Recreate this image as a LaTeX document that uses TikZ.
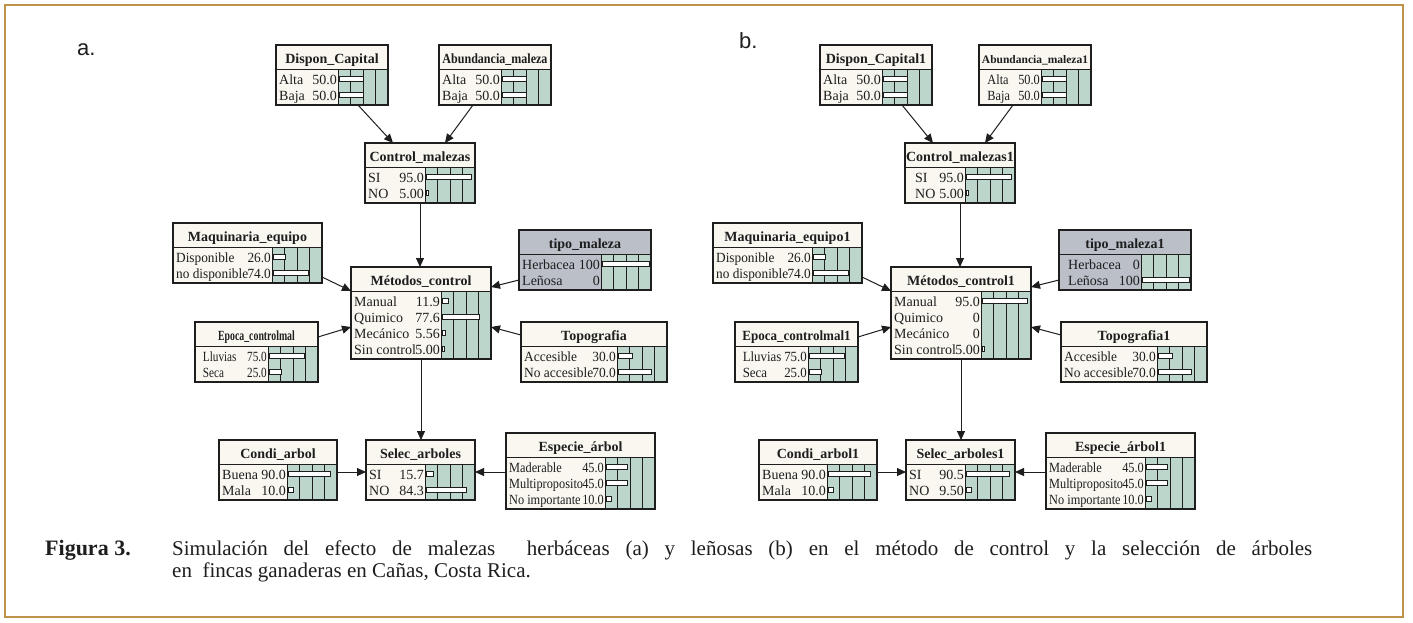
\documentclass[tikz,border=0pt]{standalone}
\usepackage{fontspec}
\setmainfont{Liberation Serif}
\newfontfamily\labfont{Liberation Sans}
\usetikzlibrary{arrows.meta,calc}
\definecolor{cream}{RGB}{249,247,240}
\definecolor{sage}{RGB}{188,214,204}
\definecolor{greyn}{RGB}{186,191,200}
\definecolor{framec}{RGB}{192,145,75}
\definecolor{ink}{RGB}{30,30,30}
\tikzset{
 ttl/.style={}, rw/.style={}, nfill/.style={fill=cream},
 boxline/.style={draw=ink, line width=1.2pt},
 gridl/.style={draw=ink, line width=0.9pt},
 barst/.style={draw=ink, fill=white, line width=0.9pt},
 titletext/.style={font=\fontsize{14}{16}\selectfont\bfseries, inner sep=0pt, text=ink},
 rowtext/.style={font=\fontsize{14}{16}\selectfont, inner sep=0pt, text=ink},
 arr/.style={draw=ink, line width=1pt, -{Triangle[length=9pt,width=8pt]}},
 caption/.style={font=\fontsize{21}{25}\selectfont, inner sep=0pt, text=ink},
 panel/.style={font=\labfont\fontsize{22}{26}\selectfont, inner sep=0pt, text=ink},
}
% #1 name, #2 x, #3 y, #4 width, #5 rows count, #6 title, #7 rows label/value/pct
\newcommand\netnode[7]{%
 \pgfmathsetmacro\nhb{#3+24}%
 \pgfmathsetmacro\nbot{#3+28+16*#5}%
 \pgfmathsetmacro\nxr{#2+#4}%
 \pgfmathsetmacro\nbl{#2+#4-50}%
 \pgfmathsetmacro\ncx{#2+#4/2}%
 \pgfmathsetmacro\nh{28+16*#5}%
 \path[nfill] (#2,#3) rectangle (\nxr,\nbot);
 \fill[sage] (\nbl,\nhb) rectangle (\nxr,\nbot);
 \foreach \k in {1,2,3} \draw[gridl] ({\nbl+12.5*\k},\nhb) -- ({\nbl+12.5*\k},\nbot);
 \draw[gridl] (#2,\nhb) -- (\nxr,\nhb) (\nbl,\nhb) -- (\nbl,\nbot);
 \node[titletext,ttl,anchor=base] (#1-t) at (\ncx,{#3+18}) {#6};
 \foreach \lab/\val/\pct [count=\i] in {#7} {
   \pgfmathsetmacro\by{\nhb+16*\i-1}
   \pgfmathsetmacro\bc{\nhb+16*\i-6}
   \node[rowtext,rw,anchor=base west] (#1-l\i) at ({#2+3},\by) {\lab};
   \node[rowtext,rw,anchor=base east] (#1-v\i) at ({\nbl-1},\by) {\val};
   \ifdim\pct pt>0pt
     \pgfmathsetmacro\bw{max(47*\pct/100,1.2)}
     \draw[barst] ({\nbl+1.5},{\bc-2.5}) rectangle ({\nbl+1.5+\bw},{\bc+2.5});
   \fi
 }
 \node[boxline, minimum width=#4pt, minimum height=\nh pt, inner sep=0pt, outer sep=0pt, anchor=north west] (#1) at (#2,#3) {};
}
\begin{document}
\begin{tikzpicture}[x=1pt,y=-1pt]
\useasboundingbox (0,0) rectangle (1413,622);
\fill[white] (0,0) rectangle (1413,622);
\draw[framec, line width=2.5pt] (5,5) rectangle (1403,617);

\node[panel,anchor=base west] (pa) at (77,55) {a.};
\node[panel,anchor=base west] (pb) at (739,48) {b.};

% ---------------- network a ----------------
\netnode{dc}{276}{45}{112}{2}{Dispon\_Capital}{Alta/50.0/50, Baja/50.0/50}
\begin{scope}[ttl/.style={xscale=0.86}]
\netnode{ab}{439}{45}{112}{2}{Abundancia\_maleza}{Alta/50.0/50, Baja/50.0/50}
\end{scope}
\netnode{cm}{365}{143}{110}{2}{Control\_malezas}{SI/95.0/95, NO/5.00/5}
\begin{scope}[rw/.style={xscale=0.95}]
\netnode{mq}{173}{223}{149}{2}{Maquinaria\_equipo}{Disponible/26.0/26, no disponible/74.0/74}
\end{scope}
\begin{scope}[nfill/.style={fill=greyn}]
\netnode{tm}{519}{230}{132}{2}{tipo\_maleza}{Herbacea/100/100, Leñosa/0/0}
\end{scope}
\netnode{mc}{351}{267}{140}{4}{Métodos\_control}{Manual/11.9/11.9, Quimico/77.6/77.6, Mecánico/5.56/5.56, Sin control/5.00/5}
\begin{scope}[ttl/.style={xscale=0.7}, rw/.style={xscale=0.8}]
\netnode{ep}{195}{322}{123}{2}{Epoca\_controlmal}{\hspace{6pt}Lluvias/75.0/75, \hspace{6pt}Seca/25.0/25}
\end{scope}
\begin{scope}[rw/.style={xscale=0.96}]
\netnode{tp}{521}{322}{146}{2}{Topografia}{Accesible/30.0/30, No accesible/70.0/70}
\end{scope}
\netnode{cd}{219}{440}{118}{2}{Condi\_arbol}{Buena/90.0/90, Mala/10.0/10}
\netnode{sa}{366}{440}{109}{2}{Selec\_arboles}{SI/15.7/15.7, NO/84.3/84.3}
\begin{scope}[rw/.style={xscale=0.88}]
\netnode{es}{506}{433}{149}{3}{Especie\_árbol}{Maderable/45.0/45, Multiproposito/45.0/45, No importante/10.0/10}
\end{scope}

\draw[arr] ($(dc.south)+(26,0)$) -- ($(cm.north)+(-27,0)$);
\draw[arr] ($(ab.south)+(-22,0)$) -- ($(cm.north)+(25,0)$);
\draw[arr] (cm.south) -- (cm.south |- mc.north);
\draw[arr] ($(mq.south east)+(0,-6)$) -- ($(mc.north west)+(0,24)$);
\draw[arr] ($(tm.south west)+(0,-10)$) -- ($(mc.north east)+(0,20)$);
\draw[arr] ($(ep.north east)+(0,15)$) -- ($(mc.north west)+(0,60)$);
\draw[arr] ($(tp.north west)+(0,13)$) -- ($(mc.north east)+(0,60)$);
\draw[arr] (mc.south) -- (mc.south |- sa.north);
\draw[arr] ($(cd.north east)+(0,32)$) -- ($(sa.north west)+(0,32)$);
\draw[arr] ($(es.north west)+(0,39)$) -- ($(sa.north east)+(0,32)$);

% ---------------- network b ----------------
\netnode{dcr}{820}{45}{112}{2}{Dispon\_Capital1}{Alta/50.0/50, Baja/50.0/50}
\begin{scope}[ttl/.style={font=\fontsize{11.5}{13}\selectfont\bfseries}, rw/.style={xscale=0.88}]
\netnode{abr}{979}{45}{112}{2}{Abundancia\_maleza1}{\hspace{6pt}Alta/50.0/50, \hspace{6pt}Baja/50.0/50}
\end{scope}
\netnode{cmr}{905}{143}{110}{2}{Control\_malezas1}{\hspace{7pt}SI/95.0/95, \hspace{7pt}NO/5.00/5}
\begin{scope}[rw/.style={xscale=0.95}]
\netnode{mqr}{713}{223}{149}{2}{Maquinaria\_equipo1}{Disponible/26.0/26, no disponible/74.0/74}
\end{scope}
\begin{scope}[nfill/.style={fill=greyn}]
\netnode{tmr}{1059}{230}{132}{2}{tipo\_maleza1}{\hspace{6pt}Herbacea/0/0, \hspace{6pt}Leñosa/100/100}
\end{scope}
\netnode{mcr}{891}{267}{140}{4}{Métodos\_control1}{Manual/95.0/95, Quimico/0/0, Mecánico/0/0, Sin control/5.00/5}
\begin{scope}[ttl/.style={xscale=0.93}, rw/.style={xscale=0.92}]
\netnode{epr}{735}{322}{123}{2}{Epoca\_controlmal1}{\hspace{5pt}Lluvias/75.0/75, \hspace{5pt}Seca/25.0/25}
\end{scope}
\begin{scope}[rw/.style={xscale=0.96}]
\netnode{tpr}{1061}{322}{146}{2}{Topografia1}{Accesible/30.0/30, No accesible/70.0/70}
\end{scope}
\netnode{cdr}{759}{440}{118}{2}{Condi\_arbol1}{Buena/90.0/90, Mala/10.0/10}
\netnode{sar}{906}{440}{109}{2}{Selec\_arboles1}{SI/90.5/90.5, NO/9.50/9.5}
\begin{scope}[rw/.style={xscale=0.88}]
\netnode{esr}{1046}{433}{149}{3}{Especie\_árbol1}{Maderable/45.0/45, Multiproposito/45.0/45, No importante/10.0/10}
\end{scope}

\draw[arr] ($(dcr.south)+(26,0)$) -- ($(cmr.north)+(-27,0)$);
\draw[arr] ($(abr.south)+(-22,0)$) -- ($(cmr.north)+(25,0)$);
\draw[arr] (cmr.south) -- (cmr.south |- mcr.north);
\draw[arr] ($(mqr.south east)+(0,-6)$) -- ($(mcr.north west)+(0,24)$);
\draw[arr] ($(tmr.south west)+(0,-10)$) -- ($(mcr.north east)+(0,20)$);
\draw[arr] ($(epr.north east)+(0,15)$) -- ($(mcr.north west)+(0,60)$);
\draw[arr] ($(tpr.north west)+(0,13)$) -- ($(mcr.north east)+(0,60)$);
\draw[arr] (mcr.south) -- (mcr.south |- sar.north);
\draw[arr] ($(cdr.north east)+(0,32)$) -- ($(sar.north west)+(0,32)$);
\draw[arr] ($(esr.north west)+(0,39)$) -- ($(sar.north east)+(0,32)$);

% ---------------- caption ----------------
\node[caption,anchor=base west,font=\fontsize{22}{26}\selectfont\bfseries] (fig) at (45,555) {Figura 3.};
\node[caption,anchor=base west] (cap1) at (172,555) {\makebox[1140pt][s]{Simulación del efecto de malezas\ \ herbáceas (a) y leñosas (b) en el método de control y la selección de árboles}};
\node[caption,anchor=base west] (cap2) at (172,577) {en\ \ fincas ganaderas en Cañas, Costa Rica.};
\end{tikzpicture}
\end{document}
